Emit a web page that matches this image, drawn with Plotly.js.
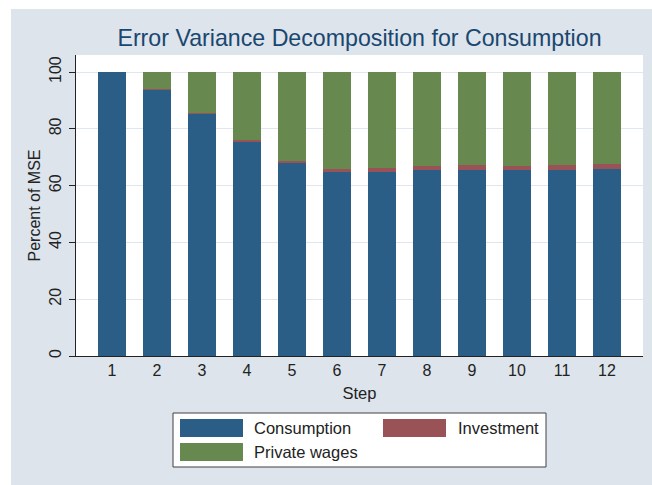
<!DOCTYPE html>
<html>
<head>
<meta charset="utf-8">
<script src="https://cdn.plot.ly/plotly-3.0.1.min.js"></script>
<style>html,body{margin:0;padding:0;background:#fff;}#chart{width:652px;height:485px;}</style>
</head>
<body>
<div id="chart"></div>
<script>
// ---- data ----
const steps = [1, 2, 3, 4, 5, 6, 7, 8, 9, 10, 11, 12];
const consumption = [100, 93.8, 85.3, 75.3, 67.8, 64.8, 64.8, 65.5, 65.6, 65.4, 65.5, 65.8];
const investment  = [0, 0.3, 0.3, 0.6, 0.8, 1.0, 1.5, 1.5, 1.7, 1.6, 1.8, 1.9];
const privateWages = [0, 5.9, 14.4, 24.1, 31.4, 34.2, 33.7, 33.0, 32.7, 33.0, 32.7, 32.3];
const seriesNames = ["Consumption", "Investment", "Private wages"];
const yTicks = [0, 20, 40, 60, 80, 100];

const colors = ["#2a5e87", "#995356", "#67894f"];
const FONT = "Liberation Sans, Arial, Helvetica, sans-serif";

const W = 652, H = 485;
const L = 76, R = 9, T = 55, B = 129;
const pw = W - L - R, ph = H - T - B;
const px = v => (v - L) / pw;
const py = v => (H - B - v) / ph;

const traces = [consumption, investment, privateWages].map((vals, i) => ({
  type: "bar",
  x: steps,
  y: vals,
  name: seriesNames[i],
  marker: {color: colors[i], line: {width: 0}},
  hoverinfo: "skip",
  showlegend: false
}));

const shapes = [
  // white outer margins (top & left)
  {type: "rect", xref: "paper", yref: "paper", x0: px(0), x1: px(W), y0: py(0), y1: py(9), fillcolor: "#ffffff", line: {width: 0}, layer: "above"},
  {type: "rect", xref: "paper", yref: "paper", x0: px(0), x1: px(11), y0: py(0), y1: py(H), fillcolor: "#ffffff", line: {width: 0}, layer: "above"},
  // legend box
  {type: "rect", xref: "paper", yref: "paper", x0: px(173), x1: px(546), y0: py(413), y1: py(467), fillcolor: "#ffffff", line: {width: 1, color: "#404040"}, layer: "above"}
];
const annotations = [];
const legendPos = [
  {sx: 180, sy: 419, tx: 252, ty: 428},
  {sx: 383, sy: 419, tx: 456, ty: 428},
  {sx: 180, sy: 443, tx: 252, ty: 452}
];
seriesNames.forEach((n, i) => {
  const p = legendPos[i];
  shapes.push({type: "rect", xref: "paper", yref: "paper", x0: px(p.sx), x1: px(p.sx + 63), y0: py(p.sy), y1: py(p.sy + 18), fillcolor: colors[i], line: {width: 0}, layer: "above"});
  annotations.push({xref: "paper", yref: "paper", x: px(p.tx), y: py(p.ty), xanchor: "left", yanchor: "middle", text: n, showarrow: false, font: {family: FONT, size: 16.5, color: "#222"}});
});

const layout = {
  width: W, height: H,
  margin: {l: L, r: R, t: T, b: B, pad: 0},
  paper_bgcolor: "#dde4ec",
  plot_bgcolor: "#ffffff",
  barmode: "stack",
  bargap: 0.38,
  title: {text: "Error Variance Decomposition for Consumption", font: {family: FONT, size: 23.2, color: "#1a476f"}, x: 0.5, xref: "paper", y: 1 - 38 / H, yref: "container", yanchor: "middle"},
  xaxis: {
    range: [0.2, 12.8], tickvals: steps, ticktext: steps.map(String),
    showgrid: false, zeroline: false, showline: true, linecolor: "#222", linewidth: 1,
    ticks: "", tickfont: {family: FONT, size: 16, color: "#222"},
    title: {text: "Step", font: {family: FONT, size: 16.5, color: "#222"}, standoff: 9},
    automargin: false, fixedrange: true
  },
  yaxis: {
    range: [0, 106], tickvals: yTicks, ticktext: yTicks.map(String),
    showgrid: true, gridcolor: "#dfe6ed", gridwidth: 1, zeroline: false,
    showline: true, linecolor: "#222", linewidth: 1,
    ticks: "outside", ticklen: 6, tickcolor: "#222", tickwidth: 1,
    tickangle: -90, ticklabelstandoff: 2,
    tickfont: {family: FONT, size: 16, color: "#222"},
    title: {text: "Percent of MSE", font: {family: FONT, size: 16, color: "#222"}, standoff: 1},
    automargin: false, fixedrange: true
  },
  shapes: shapes,
  annotations: annotations,
  showlegend: false
};

Plotly.newPlot("chart", traces, layout, {displayModeBar: false, staticPlot: true});
</script>
</body>
</html>
